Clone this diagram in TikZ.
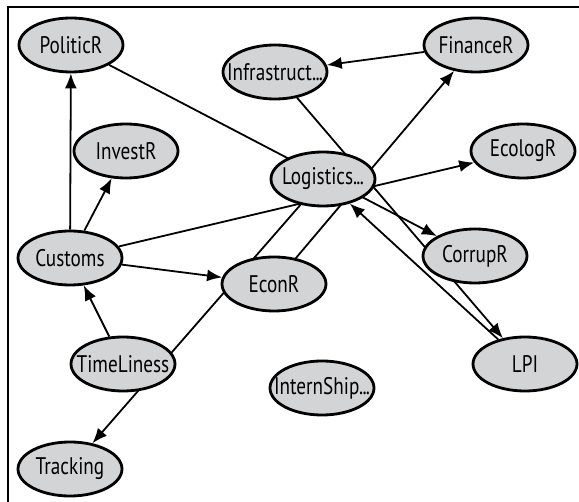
\documentclass[tikz,border=0pt]{standalone}
\usepackage{fontspec}
\setmainfont{PT Sans}[FakeStretch=0.8]
\usetikzlibrary{shapes.geometric,arrows.meta,backgrounds}
\definecolor{nodegray}{RGB}{211,212,214}
\newcommand{\lbl}[1]{\makebox[0pt]{#1}}
\newcommand{\trail}{.\kern-0.4pt.\kern-0.4pt.}

\begin{document}
\begin{tikzpicture}[x=0.5pt,y=-0.5pt,
  var/.style={ellipse,draw,line width=1.4pt,fill=nodegray,minimum width=52pt,minimum height=27pt,inner sep=0pt,font=\fontsize{12}{14}\selectfont},
  dep/.style={-{Latex[length=7.5pt,width=6pt]},line width=0.9pt}]
\useasboundingbox (0,0) rectangle (579,502);
\draw[line width=1pt] (8,502) -- (8,7) -- (579,7);

\node[var] (politic) at (71,45) {\lbl{PoliticR}};
\node[var] (invest) at (126,151) {\lbl{InvestR}};
\node[var] (infra) at (275,72) {\lbl{Infrastruct\trail}};
\node[var] (finance) at (476,45) {\lbl{FinanceR}};
\node[var] (ecolog) at (523,151) {\lbl{EcologR}};
\node[var] (logistics) at (323,179) {\lbl{Logistics\trail}};
\node[var] (customs) at (70,258) {\lbl{Customs}};
\node[var] (econ) at (274,284) {\lbl{EconR}};
\node[var] (corrup) at (475,256) {\lbl{CorrupR}};
\node[var] (time) at (123,364) {\lbl{TimeLiness}};
\node[var] (lpi) at (525,364) {\lbl{LPI}};
\node[var] (intern) at (322,388) {\lbl{InternShip\trail}};
\node[var] (tracking) at (70,469) {\lbl{Tracking}};

\begin{scope}[on background layer]
\foreach \a/\b in {customs/politic, customs/invest, customs/econ, customs/ecolog,
  time/customs, logistics/tracking, econ/finance, finance/infra,
  politic/corrup, infra/lpi, lpi/logistics}{
	\draw[dep] (\a) -- (\b);
}
\end{scope}
\end{tikzpicture}
\end{document}
